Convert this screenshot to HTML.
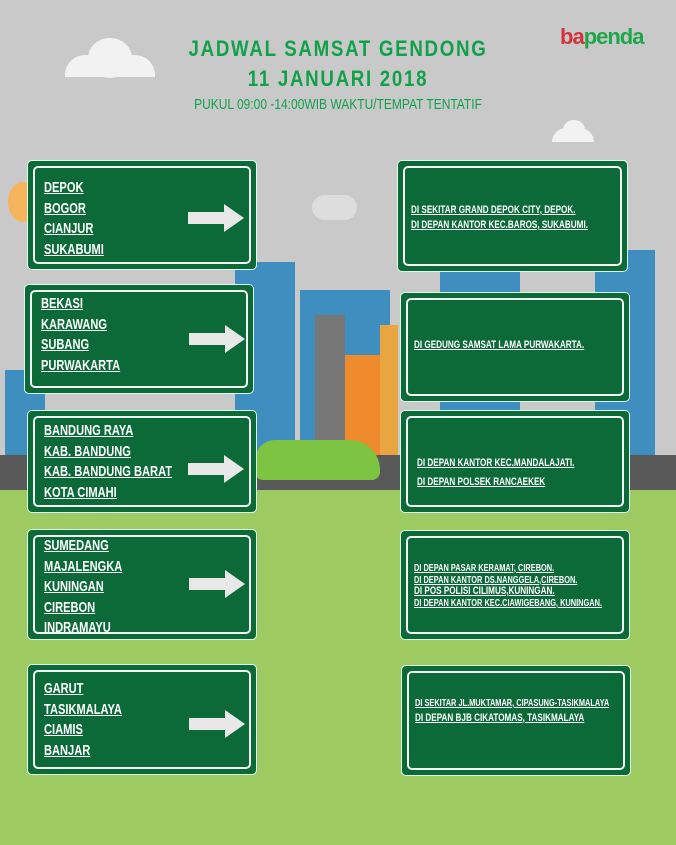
<!DOCTYPE html>
<html><head><meta charset="utf-8"><style>
*{margin:0;padding:0;box-sizing:border-box}
body{width:676px;height:845px;position:relative;overflow:hidden;background:#c9c9c9;font-family:"Liberation Sans",sans-serif}
.a{position:absolute}
.sign{position:absolute;background:#0b6a37;border:1px solid #dfe;border-radius:5px}
.sign .in{position:absolute;left:5px;top:5px;right:5px;bottom:5px;border:2px solid #f2f2f2;border-radius:5px}
.l{position:absolute;left:16px;color:#fff;font-weight:bold;font-size:15px;line-height:20.5px;text-decoration:underline;white-space:nowrap;transform:scaleX(0.74);transform-origin:0 0}
.r{position:absolute;left:13px;color:#fff;font-weight:bold;font-size:11px;line-height:15px;text-decoration:underline;white-space:nowrap;transform:scaleX(0.74);transform-origin:0 0}
.arrow{position:absolute;width:56px;height:28px}
.t{position:absolute;left:0;width:676px;text-align:center;color:#11a14a;font-weight:bold}
</style></head><body>
<div class="a" style="left:65px;top:55px;width:90px;height:22px;background:#f2f2f2;border-radius:20px 20px 0 0"></div>
<div class="a" style="left:88px;top:38px;width:44px;height:40px;background:#f2f2f2;border-radius:50%"></div>
<div class="a" style="left:552px;top:128px;width:42px;height:14px;background:#f2f2f2;border-radius:14px 14px 0 0"></div>
<div class="a" style="left:563px;top:120px;width:22px;height:20px;background:#f2f2f2;border-radius:50%"></div>
<div class="a" style="left:312px;top:195px;width:45px;height:25px;background:#ddd;border-radius:14px"></div>
<div class="a" style="left:8px;top:182px;width:30px;height:40px;background:#f6b45c;border-radius:50%"></div>
<div class="a" style="left:235px;top:262px;width:60px;height:200px;background:#3e8ec0"></div>
<div class="a" style="left:300px;top:290px;width:90px;height:170px;background:#3e8ec0"></div>
<div class="a" style="left:440px;top:270px;width:80px;height:190px;background:#3e8ec0"></div>
<div class="a" style="left:595px;top:250px;width:60px;height:210px;background:#3e8ec0"></div>
<div class="a" style="left:5px;top:370px;width:40px;height:90px;background:#3e8ec0"></div>
<div class="a" style="left:315px;top:315px;width:30px;height:145px;background:#777"></div>
<div class="a" style="left:345px;top:355px;width:35px;height:105px;background:#ef8b2c"></div>
<div class="a" style="left:380px;top:325px;width:18px;height:135px;background:#e9a640"></div>
<div class="a" style="left:0;top:455px;width:676px;height:38px;background:#595959"></div>
<div class="a" style="left:255px;top:440px;width:125px;height:40px;background:#7dc443;border-radius:20px 30px 8px 8px"></div>
<div class="a" style="left:0;top:490px;width:676px;height:355px;background:#9dcb62"></div>
<div class="t" style="top:36px;font-size:22px;letter-spacing:2px;transform:scaleX(0.85)">JADWAL SAMSAT GENDONG</div>
<div class="t" style="top:66px;font-size:22px;letter-spacing:2px;transform:scaleX(0.85)">11 JANUARI 2018</div>
<div class="t" style="top:96px;font-size:15px;font-weight:normal;transform:scaleX(0.8)">PUKUL 09:00 -14:00WIB WAKTU/TEMPAT TENTATIF</div>
<div class="a" style="left:560px;top:24px;font-size:22px;font-weight:bold;letter-spacing:-1px"><span style="color:#d3323a">ba</span><span style="color:#1ea64a">penda</span></div>

<svg width="0" height="0" style="position:absolute"><defs><symbol id="ar" viewBox="0 0 56 28"><polygon points="0,8 36,8 36,0 56,14 36,28 36,20 0,20" fill="#e8e8e8"/></symbol></defs></svg>

<div class="sign" style="left:27px;top:160px;width:230px;height:110px"><div class="in"></div>
<div class="l" style="top:17px">DEPOK<br>BOGOR<br>CIANJUR<br>SUKABUMI</div>
<svg class="arrow" style="left:160px;top:43px"><use href="#ar"/></svg></div>
<div class="sign" style="left:397px;top:160px;width:231px;height:112px"><div class="in"></div>
<div class="r" style="top:42px">DI SEKITAR GRAND DEPOK CITY, DEPOK.<br>DI DEPAN KANTOR KEC.BAROS, SUKABUMI.</div></div>

<div class="sign" style="left:24px;top:284px;width:230px;height:110px"><div class="in"></div>
<div class="l" style="top:9px">BEKASI<br>KARAWANG<br>SUBANG<br>PURWAKARTA</div>
<svg class="arrow" style="left:164px;top:40px"><use href="#ar"/></svg></div>
<div class="sign" style="left:400px;top:292px;width:230px;height:110px"><div class="in"></div>
<div class="r" style="top:45px">DI GEDUNG SAMSAT LAMA PURWAKARTA.</div></div>

<div class="sign" style="left:27px;top:410px;width:230px;height:103px"><div class="in"></div>
<div class="l" style="top:10px">BANDUNG RAYA <br>KAB. BANDUNG<br>KAB. BANDUNG BARAT<br>KOTA CIMAHI</div>
<svg class="arrow" style="left:160px;top:44px"><use href="#ar"/></svg></div>
<div class="sign" style="left:400px;top:410px;width:230px;height:103px"><div class="in"></div>
<div class="r" style="top:43px;left:16px;line-height:19px">DI DEPAN KANTOR KEC.MANDALAJATI.<br>DI DEPAN POLSEK RANCAEKEK</div></div>

<div class="sign" style="left:27px;top:529px;width:230px;height:111px"><div class="in"></div>
<div class="l" style="top:6px">SUMEDANG<br>MAJALENGKA<br>KUNINGAN<br>CIREBON<br>INDRAMAYU</div>
<svg class="arrow" style="left:161px;top:40px"><use href="#ar"/></svg></div>
<div class="sign" style="left:400px;top:530px;width:230px;height:110px"><div class="in"></div>
<div class="r" style="top:32px;line-height:11.5px;font-size:10px">DI DEPAN PASAR KERAMAT, CIREBON.<br>DI DEPAN KANTOR DS.NANGGELA,CIREBON.<br><span style="font-size:11px">DI POS POLISI CILIMUS,KUNINGAN.</span><br>DI DEPAN KANTOR KEC.CIAWIGEBANG, KUNINGAN.</div></div>

<div class="sign" style="left:27px;top:664px;width:230px;height:111px"><div class="in"></div>
<div class="l" style="top:14px">GARUT<br>TASIKMALAYA<br>CIAMIS<br>BANJAR</div>
<svg class="arrow" style="left:161px;top:45px"><use href="#ar"/></svg></div>
<div class="sign" style="left:401px;top:665px;width:230px;height:111px"><div class="in"></div>
<div class="r" style="top:31px;line-height:14px;font-size:10px">DI SEKITAR JL.MUKTAMAR, CIPASUNG-TASIKMALAYA<br><span style="font-size:11px">DI DEPAN BJB CIKATOMAS, TASIKMALAYA </span></div></div>
</body></html>
